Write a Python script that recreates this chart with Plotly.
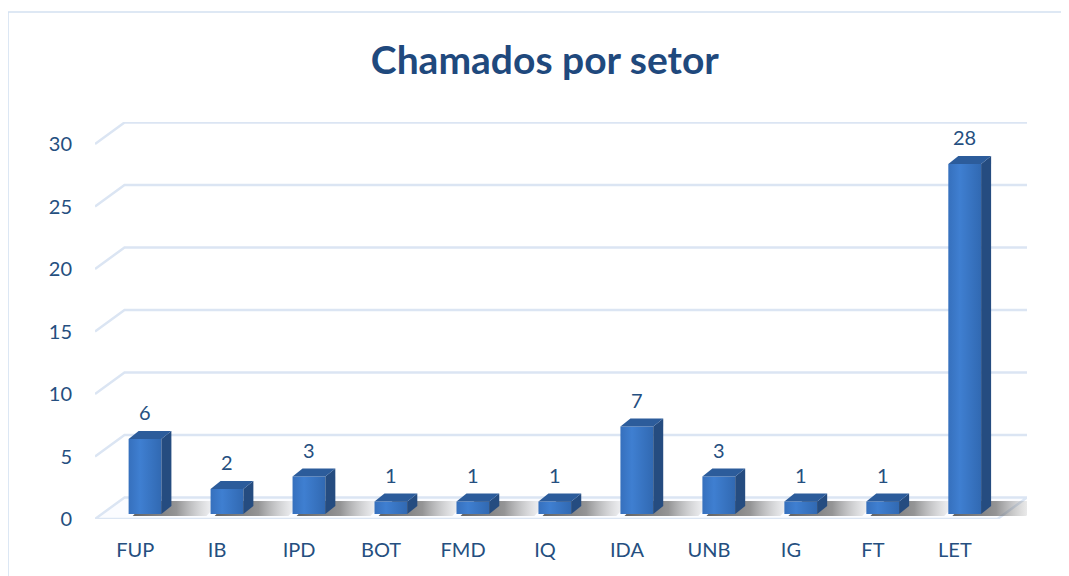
import plotly.graph_objects as go

categories = ["FUP", "IB", "IPD", "BOT", "FMD", "IQ", "IDA", "UNB", "IG", "FT", "LET"]
values = [6, 2, 3, 1, 1, 1, 7, 3, 1, 1, 28]
y_ticks = [0, 5, 10, 15, 20, 25, 30]
title_text = "Chamados por setor"

# ---- style / geometry constants (pixel-derived, not data) ----
X_MIN, X_MAX = -0.61, 10.76
Y_MIN, Y_MAX = 0, 31.76
BASE = 0.4          # bars sit slightly behind the front edge of the floor
HW = 0.2            # half width of bar front face
BDX, BDY = 0.122, 0.64   # bar depth offsets
GDX, GDY = 0.36, 1.72    # wall/grid depth offsets
FLOOR_RIGHT = 10.40

SIDE = "#254c80"
TOP = "#2c5c9b"
GRID = "#dbe5f3"
TEXT = "#254f80"
FONT = "Lato, Open Sans, sans-serif"

xs = list(range(len(categories)))
fig = go.Figure()

# back-wall gridlines with the perspective diagonal at the left
for t in y_ticks[1:]:
    fig.add_trace(go.Scatter(
        x=[X_MIN, X_MIN + GDX, X_MAX], y=[t, t + GDY, t + GDY],
        mode="lines", line=dict(color=GRID, width=2.5),
        hoverinfo="skip", showlegend=False, cliponaxis=False))

# floor plane
fig.add_trace(go.Scatter(
    x=[X_MIN, FLOOR_RIGHT, FLOOR_RIGHT + GDX, X_MAX - 0.02, X_MIN + GDX, X_MIN],
    y=[0, 0, GDY, GDY, GDY, 0],
    mode="lines", fill="toself", fillcolor="rgba(251,252,255,1)",
    line=dict(color=GRID, width=2.5), hoverinfo="skip", showlegend=False,
    cliponaxis=False))

# soft shadows behind bars on the floor
for i in xs:
    fig.add_trace(go.Scatter(
        x=[i - HW + 0.05, i + HW + 0.55, i + HW + 0.72, i - HW + 0.22, i - HW + 0.05],
        y=[BASE - 0.15, BASE - 0.15, BASE + 1.05, BASE + 1.05, BASE - 0.15],
        mode="lines", fill="toself",
        fillgradient=dict(type="horizontal",
                          colorscale=[[0, "rgba(60,60,60,0.8)"], [0.5, "rgba(80,80,80,0.6)"],
                                      [0.75, "rgba(120,120,120,0.3)"], [1, "rgba(160,160,160,0)"]]),
        line=dict(width=0), hoverinfo="skip", showlegend=False))

# bars: front, side and top faces
for c, i, v in zip(categories, xs, values):
    top = v + BASE
    fig.add_trace(go.Scatter(
        x=[i - HW, i + HW, i + HW, i - HW, i - HW],
        y=[BASE, BASE, top, top, BASE],
        mode="lines", fill="toself",
        fillgradient=dict(type="horizontal",
                          colorscale=[[0, "#3670bd"], [0.35, "#3f7fd1"], [1, "#3169b2"]]),
        line=dict(width=0), hoveron="fills", name=f"{c}: {v}",
        hoverinfo="name", showlegend=False))
    fig.add_trace(go.Scatter(
        x=[i + HW, i + HW + BDX, i + HW + BDX, i + HW, i + HW],
        y=[BASE, BASE + BDY, top + BDY, top, BASE],
        mode="lines", fill="toself", fillcolor=SIDE,
        line=dict(width=0), hoverinfo="skip", showlegend=False))
    fig.add_trace(go.Scatter(
        x=[i - HW, i - HW + BDX, i + HW + BDX, i + HW, i - HW],
        y=[top, top + BDY, top + BDY, top, top],
        mode="lines", fill="toself", fillcolor=TOP,
        line=dict(width=0), hoverinfo="skip", showlegend=False))

# value labels
annotations = []
for i, v in zip(xs, values):
    annotations.append(dict(
        x=i, y=v + BASE, xref="x", yref="y", text=str(v), showarrow=False,
        yanchor="bottom", yshift=13,
        font=dict(family=FONT, size=20, color=TEXT)))

# page body has an 8px margin, so the figure is laid out 8px smaller/shifted
fig.update_layout(
    width=1061, height=568,
    margin=dict(l=87, r=42, t=114, b=57),
    paper_bgcolor="white", plot_bgcolor="rgba(0,0,0,0)",
    title=dict(text=f"<b>{title_text}</b>", xref="container", yref="container",
               x=0.506, y=0.9085, xanchor="center", yanchor="middle",
               font=dict(family=FONT, size=39, color="#1f497d")),
    annotations=annotations,
    xaxis=dict(range=[X_MIN, X_MAX], tickvals=[i - 0.12 for i in xs], ticktext=categories,
               showgrid=False, zeroline=False, showline=False, ticks="",
               ticklabelstandoff=17, fixedrange=True,
               tickfont=dict(family=FONT, size=20, color=TEXT)),
    yaxis=dict(range=[Y_MIN, Y_MAX], tickvals=y_ticks, showgrid=False, zeroline=False,
               showline=False, ticks="", ticklabelstandoff=22, fixedrange=True,
               tickfont=dict(family=FONT, size=20, color=TEXT)),
    shapes=[dict(type="rect", xref="paper", yref="paper",
                 x0=-0.0933, x1=1.2, y0=-0.3, y1=1.277,
                 line=dict(color="#d3e1f1", width=1.5), fillcolor="rgba(0,0,0,0)",
                 layer="below")],
)

fig.write_html("out.html")
